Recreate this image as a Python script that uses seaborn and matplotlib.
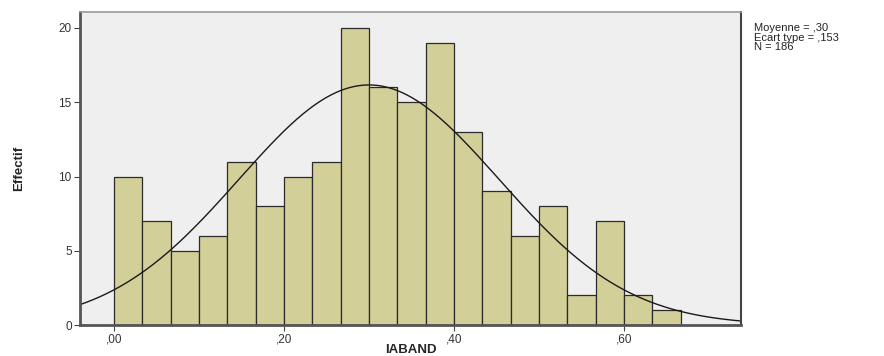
import numpy as np
import pandas as pd
import matplotlib
matplotlib.use("Agg")
import matplotlib.pyplot as plt
import seaborn as sns

# histogram of IABAND (bins of width 1/30)
bin_width = 1 / 30
bin_starts = [i * bin_width for i in range(20)]
counts = [10, 7, 5, 6, 11, 8, 10, 11, 20, 16, 15, 19, 13, 9, 6, 8, 2, 7, 2, 1]
mean_val = 0.30
sd_val = 0.153
n_total = 186
x_ticks = [0.0, 0.2, 0.4, 0.6]
x_tick_labels = [",00", ",20", ",40", ",60"]
y_ticks = [0, 5, 10, 15, 20]

df = pd.DataFrame({"IABAND": [s + bin_width / 2 for s in bin_starts], "n": counts})
edges = [i * bin_width for i in range(21)]

sns.set_style("white")
plt.rcParams["font.family"] = ["Liberation Sans", "DejaVu Sans"]

fig = plt.figure(figsize=(8.84, 3.56), dpi=100)
ax = fig.add_axes([0.0905, 0.087, 0.748, 0.879])
ax.set_facecolor("#efefef")

sns.histplot(data=df, x="IABAND", weights="n", bins=edges, ax=ax,
             color="#d3cf98", alpha=1, edgecolor="#2b2b2b", linewidth=0.9)

# normal curve
xs = np.linspace(-0.04, 0.738, 300)
ys = n_total * bin_width / (sd_val * np.sqrt(2 * np.pi)) * np.exp(-0.5 * ((xs - mean_val) / sd_val) ** 2)
sns.lineplot(x=xs, y=ys, ax=ax, color="#1a1a1a", linewidth=1.0)

ax.set_xlim(-0.0398, 0.7377)
ax.set_ylim(0, 21.07)
ax.set_xticks(x_ticks)
ax.set_xticklabels(x_tick_labels)
ax.set_yticks(y_ticks)
ax.tick_params(axis="both", direction="out", length=4, width=0.8, color="#444444",
               labelsize=8.5, labelcolor="#333333", pad=2,
               bottom=True, left=True)

for side in ["left", "bottom"]:
    ax.spines[side].set_color("#555555")
    ax.spines[side].set_linewidth(2)
ax.spines["right"].set_color("#444444")
ax.spines["right"].set_linewidth(1.5)
ax.spines["top"].set_color("#999999")
ax.spines["top"].set_linewidth(1.2)

ax.set_xlabel("IABAND", fontsize=9.5, fontweight="bold", labelpad=-1)
ax.set_ylabel("Effectif", fontsize=9.5, fontweight="bold", labelpad=24,
              family=["Liberation Sans Narrow", "Liberation Sans", "DejaVu Sans"])

fig.text(0.853, 0.935, "Moyenne = ,30\nEcart type = ,153\nN = 186",
         fontsize=8, va="top", ha="left", linespacing=0.95, color="#222222")

fig.savefig("out.png", dpi=100)
